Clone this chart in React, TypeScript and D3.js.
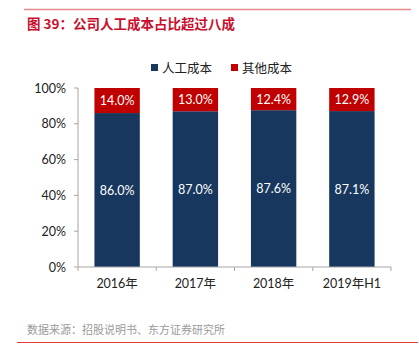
import React from 'react';
import * as d3 from 'd3';

const categories = ['2016年', '2017年', '2018年', '2019年H1'];
const laborShare = [86.0, 87.0, 87.6, 87.1];
const otherShare = [14.0, 13.0, 12.4, 12.9];
const seriesNames = ['人工成本', '其他成本'];
const yTicks = [0, 20, 40, 60, 80, 100];

const colors = ['#17375e', '#c00000'];
const font = 'Lato, "Noto Sans CJK SC", sans-serif';

export default function App() {
    const width = 419, height = 353;
    const plot = { left: 78, right: 391, top: 88, bottom: 267 };

    const x = d3.scaleBand<string>()
        .domain(categories)
        .range([plot.left, plot.right])
        .paddingInner(0.42)
        .paddingOuter(0.21);

    const y = d3.scaleLinear()
        .domain([0, 100])
        .range([plot.bottom, plot.top]);

    const stackData = categories.map((c, i) => ({ cat: c, labor: laborShare[i], other: otherShare[i] }));
    const stack = d3.stack<any>().keys(['labor', 'other'])(stackData);

    const boundaries = d3.range(categories.length + 1).map(i => plot.left + i * (plot.right - plot.left) / categories.length);

    return (
        <svg width={width} height={height} style={{ position: 'absolute', left: 0, top: 0 }} fontFamily={font}>
            <line x1={24} x2={411} y1={9.5} y2={9.5} stroke="#e8898b" strokeWidth={1.5} />
            <text x={27} y={29} fontSize={13.5} fontWeight="bold" fill="#c8102e"
                fontFamily='"Noto Sans CJK SC", sans-serif'>图 39：公司人工成本占比超过八成</text>

            {/* legend */}
            {seriesNames.map((s, i) => (
                <g key={s} transform={`translate(${151 + i * 80}, 68)`}>
                    <rect x={0} y={-4} width={7} height={7} fill={colors[i]} />
                    <text x={11} y={4.5} fontSize={12.5} fill="#222"
                        fontFamily='"Noto Sans CJK SC", sans-serif'>{s}</text>
                </g>
            ))}

            {/* bars */}
            {stack.map((layer, li) => (
                <g key={li}>
                    {layer.map((d: any, i: number) => {
                        const bx = x(categories[i])!;
                        const y0 = y(d[0]), y1 = y(d[1]);
                        const val = li === 0 ? laborShare[i] : otherShare[i];
                        return (
                            <g key={i}>
                                <rect x={bx} y={y1} width={x.bandwidth()} height={y0 - y1} fill={colors[li]} />
                                <text x={bx + x.bandwidth() / 2} y={(y0 + y1) / 2 + 4.5} textAnchor="middle"
                                    fontSize={12.5} fill="#fff">{val.toFixed(1)}%</text>
                            </g>
                        );
                    })}
                </g>
            ))}

            {/* y axis */}
            <line x1={plot.left} x2={plot.left} y1={plot.top} y2={plot.bottom} stroke="#a6a6a6" />
            {yTicks.map(t => (
                <g key={t}>
                    <line x1={plot.left - 4} x2={plot.left} y1={y(t)} y2={y(t)} stroke="#a6a6a6" />
                    <text x={plot.left - 12} y={y(t) + 4.5} textAnchor="end" fontSize={12.5} fill="#222">{t}%</text>
                </g>
            ))}

            {/* x axis */}
            <line x1={plot.left} x2={plot.right} y1={plot.bottom} y2={plot.bottom} stroke="#a6a6a6" />
            {boundaries.map((b, i) => (
                <line key={i} x1={b} x2={b} y1={plot.bottom} y2={plot.bottom + 4} stroke="#a6a6a6" />
            ))}
            {categories.map(c => (
                <text key={c} x={x(c)! + x.bandwidth() / 2} y={288} textAnchor="middle" fontSize={12.5} fill="#222">{c}</text>
            ))}

            <text x={27} y={334} fontSize={11} fill="#9a9a9a"
                fontFamily='"Noto Sans CJK SC", sans-serif'>数据来源：招股说明书、东方证券研究所</text>
            <line x1={17} x2={418} y1={342.5} y2={342.5} stroke="#e03c3c" strokeWidth={1.2} />
        </svg>
    );
}
